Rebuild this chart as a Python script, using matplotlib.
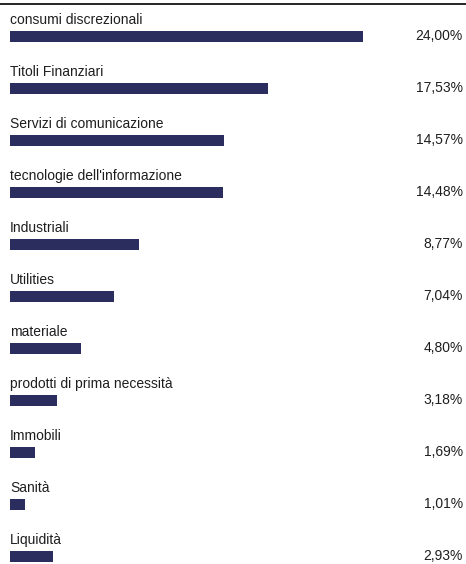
import matplotlib
matplotlib.use("Agg")
import matplotlib.pyplot as plt
import matplotlib.transforms as mtransforms

categories = ["consumi discrezionali", "Titoli Finanziari", "Servizi di comunicazione",
              "tecnologie dell'informazione", "Industriali", "Utilities", "materiale",
              "prodotti di prima necessità", "Immobili", "Sanità", "Liquidità"]
values = [24.00, 17.53, 14.57, 14.48, 8.77, 7.04, 4.80, 3.18, 1.69, 1.01, 2.93]
value_labels = ["24,00%", "17,53%", "14,57%", "14,48%", "8,77%", "7,04%", "4,80%",
                "3,18%", "1,69%", "1,01%", "2,93%"]

W, H = 466, 564
fig = plt.figure(figsize=(W / 100, H / 100), dpi=100)
ax = fig.add_axes([0, 0, 1, 1])

px_per_unit = 353 / 24.0
x0 = 10
ax.set_xlim(-x0 / px_per_unit, (W - x0) / px_per_unit)
row = 52.0
c0 = 36.5
ax.set_ylim((H - c0) / row, -c0 / row)
ax.axis("off")

bar_color = "#2a2d5e"
text_color = "#1e1e1e"
font = "Liberation Sans"
fs = 10

ypos = list(range(len(categories)))
ax.barh(ypos, values, height=11 / row, color=bar_color, left=0)

trans = mtransforms.blended_transform_factory(ax.transAxes, ax.transData)
for i, (cat, lab) in enumerate(zip(categories, value_labels)):
    ax.text(0, i - 12.5 / row, cat, ha="left", va="baseline", fontsize=fs,
            family=font, color=text_color)
    ax.text(463 / W, i + 3.5 / row, lab, ha="right", va="baseline", fontsize=fs,
            family=font, color=text_color, transform=trans)

ax.axhline((4 - c0) / row, color="black", lw=1.2)

fig.savefig("out.png", dpi=100)
